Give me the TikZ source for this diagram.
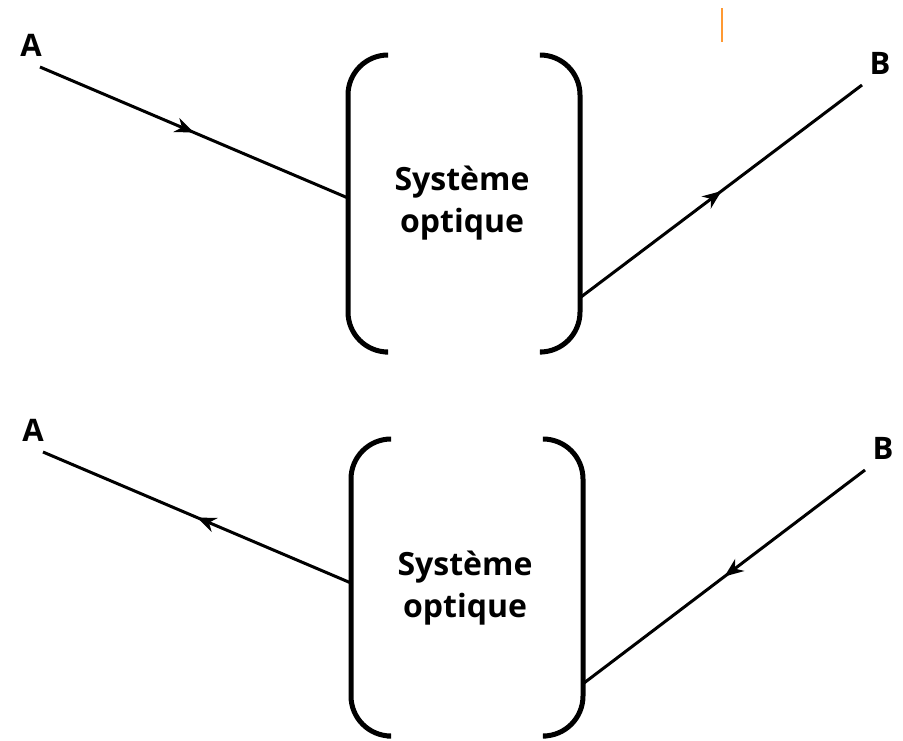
\documentclass[tikz,border=0pt]{standalone}
\usepackage{fontspec}
\setmainfont{Open Sans}
\usetikzlibrary{arrows.meta,decorations.markings}

\tikzset{
  lbl/.style={font=\bfseries\fontsize{31}{34}\selectfont},
  sysname/.style={font=\bfseries\fontsize{32}{42}\selectfont, align=center},
  bracket/.style={line width=5pt, rounded corners=40pt},
  ray/.style={line width=3pt, postaction=decorate, decoration={markings,
      mark=at position 0.5 with {\arrow{Stealth[length=19pt,width=15pt,inset=6pt]}}}}
}

\begin{document}
\begin{tikzpicture}[x=1pt,y=-1pt]
        \useasboundingbox (0,0) rectangle (903,740);

        % upper picture: A -> system -> B
        \node[lbl](A1) at (31,45) {A};
        \node[lbl](B1) at (880,63) {B};
        \node[sysname](sys1) at (462,203) {Système\\optique};
        \coordinate (A1end) at (40,67);
        \coordinate (in1) at (348,198);
        \coordinate (out1) at (581,297);
        \coordinate (B1end) at (862,85);

        \draw[bracket] (385,55) -- (348,55) -- (348,352) -- (385,352);
        \draw[bracket] (542,55) -- (580,55) -- (580,352) -- (542,352);

        \draw[ray] (A1end) -- (in1);
        \draw[ray] (out1) -- (B1end);

        % lower picture: B -> system -> A
        \node[lbl](A2) at (33,430) {A};
        \node[lbl](B2) at (883,448) {B};
        \node[sysname](sys2) at (465,588) {Système\\optique};
        \coordinate (A2end) at (43,452);
        \coordinate (in2) at (351,583);
        \coordinate (out2) at (584,683);
        \coordinate (B2end) at (865,470);

        \draw[bracket] (387,439) -- (351,439) -- (351,736) -- (387,736);
        \draw[bracket] (546,439) -- (583,439) -- (583,736) -- (546,736);

        \draw[ray] (in2) -- (A2end);
        \draw[ray] (B2end) -- (out2);

        \draw[orange!80, line width=1.5pt] (722,8) -- (722,42);
    \end{tikzpicture}
\end{document}
